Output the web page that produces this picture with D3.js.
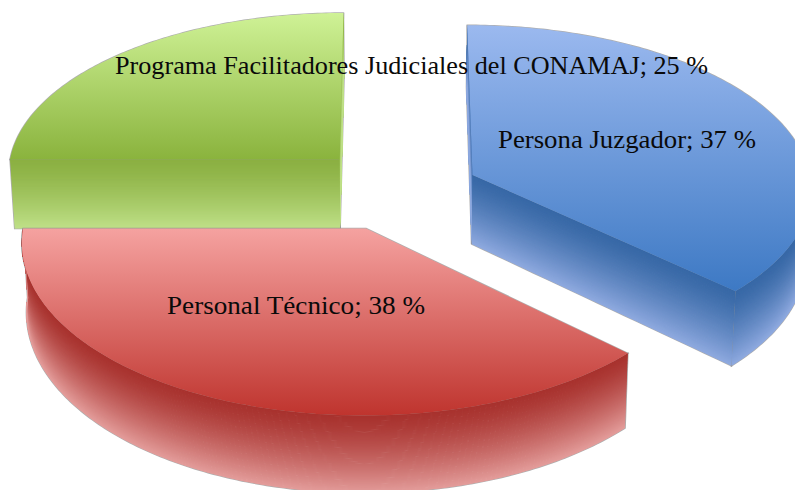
<!DOCTYPE html>
<html>
<head>
<meta charset="utf-8">
<script src="https://cdn.jsdelivr.net/npm/d3@7"></script>
<style>
  html, body { margin: 0; padding: 0; background: #fff; }
  svg { display: block; }
  text { font-family: "Liberation Serif", serif; fill: #0a0a0a; }
</style>
</head>
<body>
<svg id="chart"></svg>
<script>
// Chart values
const categories = ["Persona Juzgador", "Personal Técnico", "Programa Facilitadores Judiciales del CONAMAJ"];
const shares = [37, 38, 25];

// Colours per slice: top face light -> dark, wall dark -> light
const topLight = ["#9bb9ef", "#f5a2a0", "#cff296"];
const topDark = ["#3d79c4", "#bf342e", "#8ab33d"];
const wallDark = ["#3768a6", "#a8322e", "#8bb042"];
const wallLight = ["#8ea9df", "#e39c9a", "#bfe088"];

// Exploded slice placement and label placement (layout, not data)
const sliceLayout = [
  { cx: 472.5, cy: 175, rx: 337, ry: 161 },
  { cx: 366, cy: 228.5, rx: 343, ry: 173 },
  { cx: 339.5, cy: 159.5, rx: 329.5, ry: 157.5 }
];
const labelLayout = [
  { x: 498, y: 148, w: 258 },
  { x: 167, y: 314, w: 258 },
  { x: 115, y: 74, w: 593 }
];

const width = 795, height = 490;
const vanishX = 397;   // horizontal centre of the perspective
const persp = 0.075;   // how fast things grow toward the viewer
const depth = 69;      // pie thickness at the centre line
const shrink = 0.988;  // bottom rim is slightly narrower than top rim
const wallLayers = 80;

const svg = d3.select("#chart").attr("width", width).attr("height", height);
const defs = svg.append("defs");

// pie layout gives the angles, 0 at 12 o'clock, clockwise
const pie = d3.pie().sort(null).value(d => d);
const arcs = pie(shares);

// project a point on the top rim
function topPoint(g, a, radius = 1) {
  const X = Math.sin(a) * radius, Y = -Math.cos(a) * radius;
  const s = 1 / (1 - persp * Y);
  return {
    x: vanishX + (g.cx + g.rx * X - vanishX) * s,
    y: g.cy + g.ry * Y * s,
    s: s
  };
}

// same point dropped to the bottom of the wall
function bottomPoint(p) {
  return {
    x: vanishX + (p.x - vanishX) * shrink,
    y: p.y + depth * Math.pow(p.s, 1.5)
  };
}

function rimPoints(g, a0, a1) {
  const n = Math.max(2, Math.round(Math.abs(a1 - a0) * 70));
  return d3.range(n + 1).map(i => topPoint(g, a0 + (a1 - a0) * i / n));
}

function spokePoints(g, a, fromCentre) {
  const n = 20;
  return d3.range(n + 1).map(i => {
    const t = fromCentre ? i / n : 1 - i / n;
    return topPoint(g, a, t);
  });
}

const line = d3.line().x(d => d.x).y(d => d.y);

// a wall is a stack of thin lines from the top rim down to the bottom rim,
// clipped to the wall outline so the fade follows the rim
let wallId = 0;
function drawWall(group, pts, i) {
  const bottom = pts.map(bottomPoint);
  const id = "wall-clip-" + (wallId++);
  defs.append("clipPath").attr("id", id)
    .append("path")
    .attr("d", line(pts.concat(bottom.slice().reverse())) + "Z");

  const colour = d3.interpolateRgb(wallDark[i], wallLight[i]);
  const layerG = group.append("g")
    .attr("clip-path", `url(#${id})`)
    .attr("fill", "none")
    .attr("stroke-width", 1.7);

  d3.range(wallLayers + 1).forEach(k => {
    const v = k / wallLayers;
    const layer = pts.map((p, j) => ({
      x: p.x + (bottom[j].x - p.x) * v,
      y: p.y + (bottom[j].y - p.y) * v
    }));
    // stays dark a little longer than a straight fade
    layerG.append("path").attr("d", line(layer)).attr("stroke", colour(Math.pow(v, 1.35)));
  });
}

// Which walls can be seen for each slice
function wallsFor(i, g, d) {
  if (i === 0) {
    // blue: start cut, end cut, front part of the rim
    return [
      spokePoints(g, d.startAngle, false),
      spokePoints(g, d.endAngle, true),
      rimPoints(g, Math.PI / 2, d.endAngle)
    ];
  }
  if (i === 1) {
    // red: only the rim, the cut faces are at the back
    return [rimPoints(g, d.startAngle, d.endAngle)];
  }
  // green: both cuts
  return [
    spokePoints(g, d.endAngle, false),
    spokePoints(g, d.startAngle, true)
  ];
}

// Green first, then blue, then red over them
[2, 0, 1].forEach(i => {
  const d = arcs[i], g = sliceLayout[i];
  const rim = rimPoints(g, d.startAngle, d.endAngle);
  const centre = { x: g.cx, y: g.cy };
  const topFace = line([centre].concat(rim)) + "Z";
  const walls = wallsFor(i, g, d);

  const sliceG = svg.append("g").attr("class", "slice");

  // thin grey outline under the slice
  const halo = sliceG.append("g")
    .attr("fill", "none")
    .attr("stroke", "#8c8c8c")
    .attr("stroke-opacity", 0.7)
    .attr("stroke-width", 1.4);
  halo.append("path").attr("d", topFace);
  walls.forEach(pts => {
    const bottom = pts.map(bottomPoint).reverse();
    halo.append("path").attr("d", line(pts.concat(bottom)) + "Z");
  });

  const wallG = sliceG.append("g");
  walls.forEach(pts => drawWall(wallG, pts, i));

  const id = "top-" + i;
  const grad = defs.append("linearGradient")
    .attr("id", id)
    .attr("x1", 0).attr("x2", 0).attr("y1", 0).attr("y2", 1);
  grad.append("stop").attr("offset", 0).attr("stop-color", topLight[i]);
  grad.append("stop").attr("offset", 1).attr("stop-color", topDark[i]);
  sliceG.append("path").attr("d", topFace).attr("fill", `url(#${id})`);
});

// Labels sit on top of everything
svg.selectAll(".label")
  .data(arcs)
  .join("text")
  .attr("class", "label")
  .attr("x", (d, i) => labelLayout[i].x)
  .attr("y", (d, i) => labelLayout[i].y)
  .attr("font-size", 26)
  .attr("textLength", (d, i) => labelLayout[i].w)
  .attr("lengthAdjust", "spacingAndGlyphs")
  .text((d, i) => `${categories[i]}; ${d.value} %`);
</script>
</body>
</html>
